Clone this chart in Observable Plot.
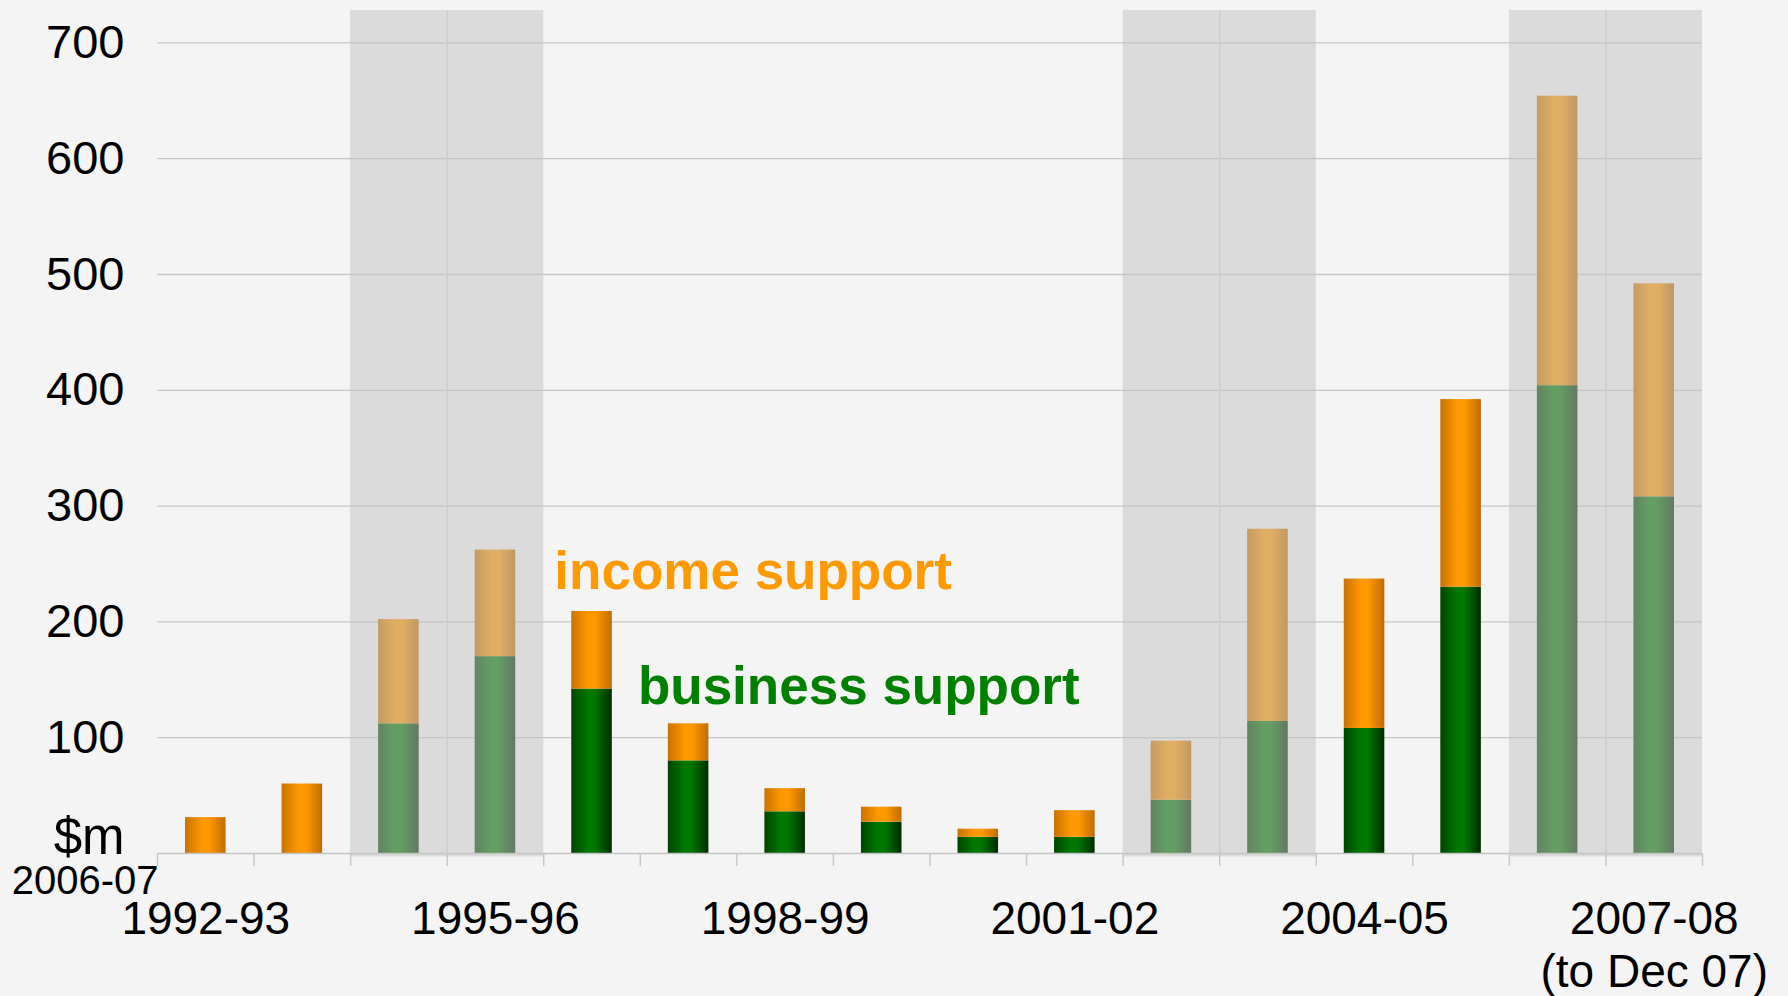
<!DOCTYPE html>
<html>
<head>
<meta charset="utf-8">
<script src="https://cdn.jsdelivr.net/npm/d3@7"></script>
<script src="https://cdn.jsdelivr.net/npm/@observablehq/plot@0.6"></script>
<style>
  html, body { margin: 0; padding: 0; background: #f4f4f4; overflow: hidden; }
  #chart svg { display: block; }
</style>
</head>
<body>
<div id="chart"></div>
<script>
// ---- data ----
const categories = ["1992-93","1993-94","1994-95","1995-96","1996-97","1997-98","1998-99","1999-00","2000-01","2001-02","2002-03","2003-04","2004-05","2005-06","2006-07","2007-08"];
const businessSupport = [0, 0, 112, 170, 142, 80, 36, 27, 14, 14, 46, 114, 108, 230, 404, 308];
const incomeSupport   = [31, 60, 90, 92, 67, 32, 20, 13, 7, 23, 51, 166, 129, 162, 250, 184];
const shadedYears = ["1994-95","1995-96","2002-03","2003-04","2006-07","2007-08"];
const yTicks = [100, 200, 300, 400, 500, 600, 700];
const labelledYears = ["1992-93","1995-96","1998-99","2001-02","2004-05","2007-08"];
const xTickLabels = ["1992-93","1995-96","1998-99","2001-02","2004-05","2007-08\n(to Dec 07)"];
const seriesNames = ["business support", "income support"];
const annotationX = [4.975, 4.11];  // category-index position of series labels
const annotationY = [129, 228];     // $m position of series labels (baseline)
const yUnitLabel = "$m";
const baseYearLabel = "2006-07";
const yMax = 728;

// ---- derived tables ----
const busBars = categories.map((c, i) => ({i, y1: 0, y2: businessSupport[i]})).filter(d => d.y2 > d.y1);
const incBars = categories.map((c, i) => ({i, y1: businessSupport[i], y2: businessSupport[i] + incomeSupport[i]})).filter(d => d.y2 > d.y1);
const shaded = shadedYears.map(c => categories.indexOf(c));
const innerBoundaries = shaded.filter(i => shaded.includes(i - 1));
const boundaries = d3.range(categories.length + 1);
const annotations = seriesNames.map((s, k) => ({text: s, x: annotationX[k], y: annotationY[k]}));

const half = 0.21;
const font = "'Liberation Sans', Arial, Helvetica, sans-serif";

const gradientDefs = () => {
  const ns = "http://www.w3.org/2000/svg";
  const defs = document.createElementNS(ns, "defs");
  const mk = (id, stops) => {
    const g = document.createElementNS(ns, "linearGradient");
    g.setAttribute("id", id);
    g.setAttribute("x1", "0"); g.setAttribute("y1", "0");
    g.setAttribute("x2", "1"); g.setAttribute("y2", "0");
    for (const [o, c] of stops) {
      const s = document.createElementNS(ns, "stop");
      s.setAttribute("offset", o);
      s.setAttribute("stop-color", c);
      g.appendChild(s);
    }
    defs.appendChild(g);
  };
  mk("gInc", [[0, "#c87200"], [0.42, "#ff9900"], [0.6, "#ff9900"], [1, "#c06c00"]]);
  mk("gBus", [[0, "#004400"], [0.4, "#007800"], [0.58, "#007800"], [1, "#002c00"]]);
  return defs;
};

const chart = Plot.plot({
  width: 1788,
  height: 996,
  marginLeft: 157,
  marginRight: 86,
  marginTop: 10,
  marginBottom: 143,
  style: {background: "#f4f4f4", fontFamily: font, color: "#000", overflow: "visible"},
  x: {type: "linear", domain: [0, categories.length]},
  y: {domain: [0, yMax]},
  marks: [
    gradientDefs,
    Plot.ruleY(yTicks, {stroke: "#c6c6c6", strokeWidth: 1.3}),
    Plot.rectY(busBars, {x1: d => d.i + 0.5 - half, x2: d => d.i + 0.5 + half, y1: "y1", y2: "y2", fill: "url(#gBus)"}),
    Plot.rectY(incBars, {x1: d => d.i + 0.5 - half, x2: d => d.i + 0.5 + half, y1: "y1", y2: "y2", fill: "url(#gInc)"}),
    Plot.ruleY([0], {stroke: "#c4c4c4", strokeWidth: 1.6}),
    Plot.rectY(shaded, {x1: d => d, x2: d => d + 1, y1: 0, y2: yMax, fill: "rgb(194,194,194)", fillOpacity: 0.51, insetBottom: -3.5}),
    Plot.ruleX(innerBoundaries, {x: d => d, stroke: "#cdcdcd", strokeWidth: 1.5, insetBottom: -3.5}),
    Plot.axisX(boundaries, {tickSize: 13, tickFormat: () => "", stroke: "#c8c8c8", strokeWidth: 1.5, label: null}),
    Plot.axisY(yTicks, {tickSize: 0, tickPadding: 33, fontSize: 47, tickFormat: d => String(d), label: null}),
    Plot.text(labelledYears, {x: d => categories.indexOf(d) + 0.5, frameAnchor: "bottom", text: (d, i) => xTickLabels[i], lineAnchor: "top", lineHeight: 1.15, dy: 43, fontSize: 46, fill: "#000"}),
    Plot.text([yUnitLabel], {frameAnchor: "bottom-left", text: d => d, textAnchor: "end", lineAnchor: "bottom", dx: -33, fontSize: 51, fill: "#000"}),
    Plot.text([baseYearLabel], {frameAnchor: "bottom-left", text: d => d, textAnchor: "end", lineAnchor: "bottom", dx: 1, dy: 40, fontSize: 40, fill: "#000"}),
    Plot.text([annotations[0]], {x: "x", y: "y", text: "text", textAnchor: "start", lineAnchor: "bottom", fontSize: 53, fontWeight: "bold", fill: "#008000"}),
    Plot.text([annotations[1]], {x: "x", y: "y", text: "text", textAnchor: "start", lineAnchor: "bottom", fontSize: 53, fontWeight: "bold", fill: "#ff9900"})
  ]
});
document.getElementById("chart").appendChild(chart);
</script>
</body>
</html>
